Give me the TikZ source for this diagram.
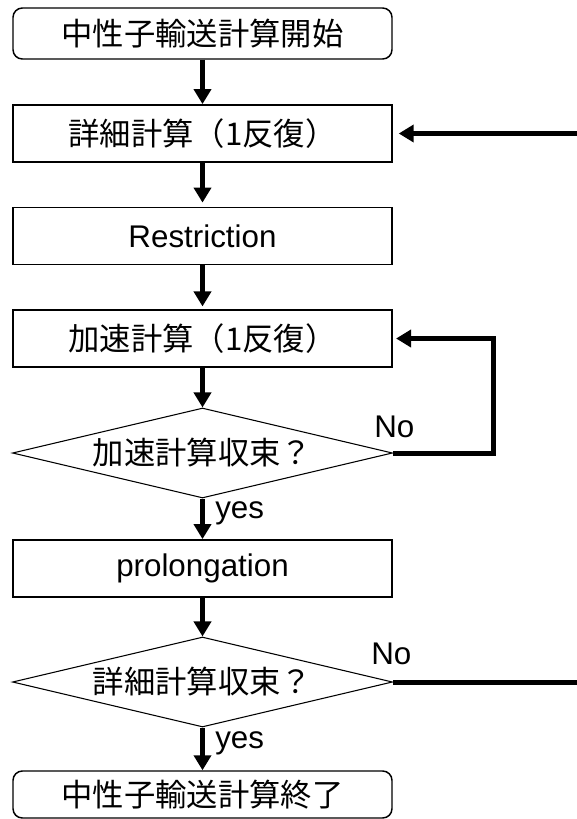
\documentclass[tikz,border=0pt]{standalone}
\usepackage{fontspec}
\setmainfont{Liberation Sans}
\newfontfamily\jpfont{Noto Sans CJK JP}
\usetikzlibrary{arrows.meta,shapes.geometric}

\begin{document}
\begin{tikzpicture}[x=0.75pt,y=-0.75pt,
  lbl/.style={font=\fontsize{23.5}{28}\selectfont,inner sep=0pt,anchor=base west},
  procbox/.style={draw,line width=1.1pt,minimum width=284.25pt,minimum height=43pt,
    inner sep=0pt,font=\fontsize{23.5}{28}\selectfont\jpfont},
  latin/.style={font=\fontsize{23.5}{28}\selectfont},
  termbox/.style={procbox,rounded corners=7pt},
  decision/.style={draw,diamond,line width=0.8pt,aspect=4.2,minimum width=285pt,
    minimum height=67.5pt,inner sep=0pt,font=\fontsize{23.5}{28}\selectfont\jpfont},
  flow/.style={line width=3.75pt,-{Triangle[length=11.25pt,width=12.75pt]}},
  bareline/.style={line width=3.75pt}]

\useasboundingbox (0,0) rectangle (577,819);

% main column
\node[termbox,minimum height=38.25pt] (start) at (202.5,33.5) {中性子輸送計算開始};
\node[procbox] (detail) at (202.5,133.5) {詳細計算（1反復）};
\node[procbox,latin] (restr) at (202.5,236) {Restriction};
\node[procbox] (accel) at (202.5,338.5) {加速計算（1反復）};
\node[decision] (conv1) at (202.5,453) {加速計算収束？};
\node[procbox,latin] (prolong) at (202.5,568.5) {prolongation};
\node[decision] (conv2) at (202.5,682) {詳細計算収束？};
\node[termbox,minimum height=35.25pt] (finish) at (202.5,794.5) {中性子輸送計算終了};

% branch labels
\node[lbl] (no1) at (374,437) {No};
\node[lbl] (no2) at (371,664) {No};
\node[lbl] (yes1) at (215,518) {yes};
\node[lbl] (yes2) at (215,748) {yes};

% loop and feedback corner points
\coordinate (fbin) at (577,133.5);
\coordinate (fbout) at (577,682);
\coordinate (loopbot) at (493,453);
\coordinate (looptop) at (493,338.5);

% downward flow
\draw[flow] (start) -- (detail);
\draw[flow,shorten >=3pt] (detail) -- (restr);
\draw[flow,shorten >=2pt] (restr) -- (accel);
\draw[flow] (accel) -- (conv1);
\draw[flow] (conv1) -- (prolong);
\draw[flow] (prolong) -- (conv2);
\draw[flow] (conv2) -- (finish);

% acceleration loop
\draw[flow,shorten >=2.5pt] (conv1.east) -- (loopbot) -- (looptop) -- (accel.east);

% outer iteration feedback
\draw[bareline] (conv2.east) -- (fbout);
\draw[flow,shorten >=4.5pt] (fbin) -- (detail.east);

\end{tikzpicture}
\end{document}
